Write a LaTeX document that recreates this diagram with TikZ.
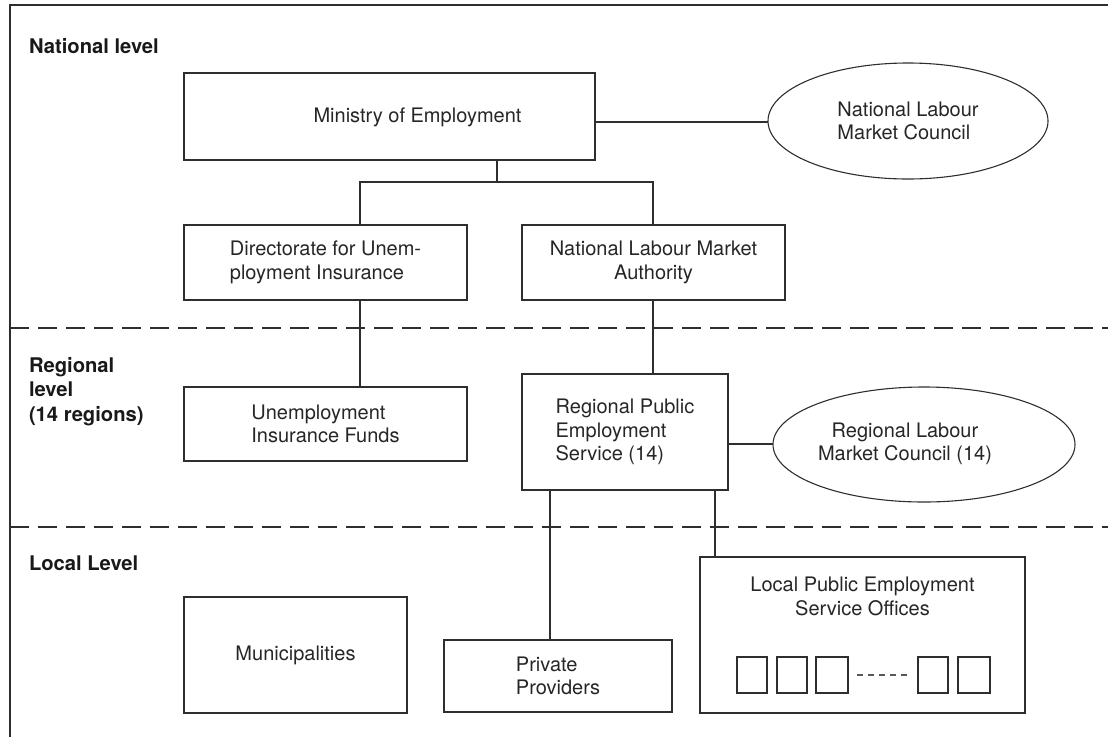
\documentclass[tikz,border=0pt]{standalone}
\usepackage{fontspec}
\setmainfont{TeX Gyre Heros}
\usetikzlibrary{shapes.geometric,calc}
\definecolor{ink}{HTML}{2E2E2E}
\definecolor{txt}{HTML}{262626}
\begin{document}
\begin{tikzpicture}[x=1pt,y=-1pt,
  every node/.style={inner sep=0pt,outer sep=0pt},
  fnt/.style={font=\fontsize{20}{23.5}\selectfont},
  box/.style={draw=ink,line width=1.3pt,rectangle,align=center,text=txt,fnt},
  oval/.style={draw=ink,line width=1.1pt,ellipse,align=center,text=txt,fnt},
  label/.style={text=txt,fnt},
  lvl/.style={anchor=north west,align=left,text=black!90,font=\bfseries\fontsize{20.2}{24.5}\selectfont},
  link/.style={draw=ink,line width=1.1pt},
  sep/.style={draw=ink,line width=1.2pt,dash pattern=on 19pt off 9pt},
  frame/.style={draw=ink,line width=1.4pt},
  mini/.style={draw=ink,line width=1.2pt,minimum width=30pt,minimum height=36pt}
]
\useasboundingbox (0,0) rectangle (1108,737);
% frame
\coordinate (ftl) at (10,5);
\coordinate (ftr) at (1108,5);
\coordinate (fbl) at (10,737);
\draw[frame] (ftr) -- (ftl) -- (fbl);
% level separators
\coordinate (s1a) at (10,328); \coordinate (s1b) at (1108,328);
\coordinate (s2a) at (10,527); \coordinate (s2b) at (1108,527);
\draw[sep] (s1a) -- (s1b);
\draw[sep] (s2a) -- (s2b);
% level labels
\node[lvl] (lnat) at (29,38) {National level};
\node[lvl] (lreg) at (29,357) {Regional\\level\\(14 regions)};
\node[lvl] (lloc) at (29,556) {Local Level};
% national
\node[box,minimum width=411pt,minimum height=87pt] (min) at (389.5,116.5) {};
\node[label] (mint) at (417.5,117) {Ministry of Employment};
\node[oval,minimum width=280pt,minimum height=116pt,align=left] (nlmc) at (908,121) {National Labour\\Market Council};
\node[box,minimum width=283pt,minimum height=75pt,align=left] (dir) at (325.5,262.5) {Directorate for Unem-\\ployment Insurance};
\node[box,minimum width=263pt,minimum height=75pt] (nlma) at (653.5,262.5) {National Labour Market\\Authority};
% regional
\node[box,minimum width=283pt,minimum height=74pt,align=left] (uif) at (325.5,424) {Unemployment\\Insurance Funds};
\node[box,minimum width=206pt,minimum height=116pt,align=left] (rpes) at (625,432) {Regional Public\\Employment\\Service (14)};
\node[oval,minimum width=302pt,minimum height=115pt] (rlmc) at (924,444.5) {};
\node[label,align=center] (rlmct) at (905,444) {Regional Labour\\Market Council (14)};
% local
\node[box,minimum width=223pt,minimum height=116pt] (mun) at (295.5,655) {Municipalities};
\node[box,minimum width=228pt,minimum height=72pt,align=left] (pp) at (558,676) {Private\\Providers};
\node[box,minimum width=325pt,minimum height=156pt] (lpes) at (862.5,635) {};
\node[label,align=center,anchor=north] (lpest) at (862.5,577) {Local Public Employment\\Service Offices};
\node[mini] (o1) at (752,675) {};
\node[mini] (o2) at (792,675) {};
\node[mini,minimum width=32pt] (o3) at (832,675) {};
\node[mini] (o4) at (933,675) {};
\node[mini,minimum width=32pt] (o5) at (974,675) {};
\draw[link,draw=ink!80,dash pattern=on 6pt off 5pt] ([xshift=9pt]o3.east) -- ([xshift=-9pt]o4.west);
% connectors
\coordinate (bus) at (497,182);
\coordinate (xa) at (360,0);
\coordinate (xb) at (653,0);
\coordinate (xc) at (550,0);
\coordinate (xd) at (715,0);
\coordinate (ya) at (0,122);
\coordinate (yb) at (0,444);
\draw[link] (min.east |- ya) -- (nlmc.west |- ya);
\draw[link] (min.south -| bus) -- (bus);
\draw[link] (dir.north -| xa) -- (xa |- bus) -- (xb |- bus) -- (nlma.north -| xb);
\draw[link] (dir.south -| xa) -- (uif.north -| xa);
\draw[link] (nlma.south -| xb) -- (rpes.north -| xb);
\draw[link] (rpes.east |- yb) -- (rlmc.west |- yb);
\draw[link] (rpes.south -| xc) -- (pp.north -| xc);
\draw[link] (rpes.south -| xd) -- (lpes.north -| xd);
\end{tikzpicture}
\end{document}
